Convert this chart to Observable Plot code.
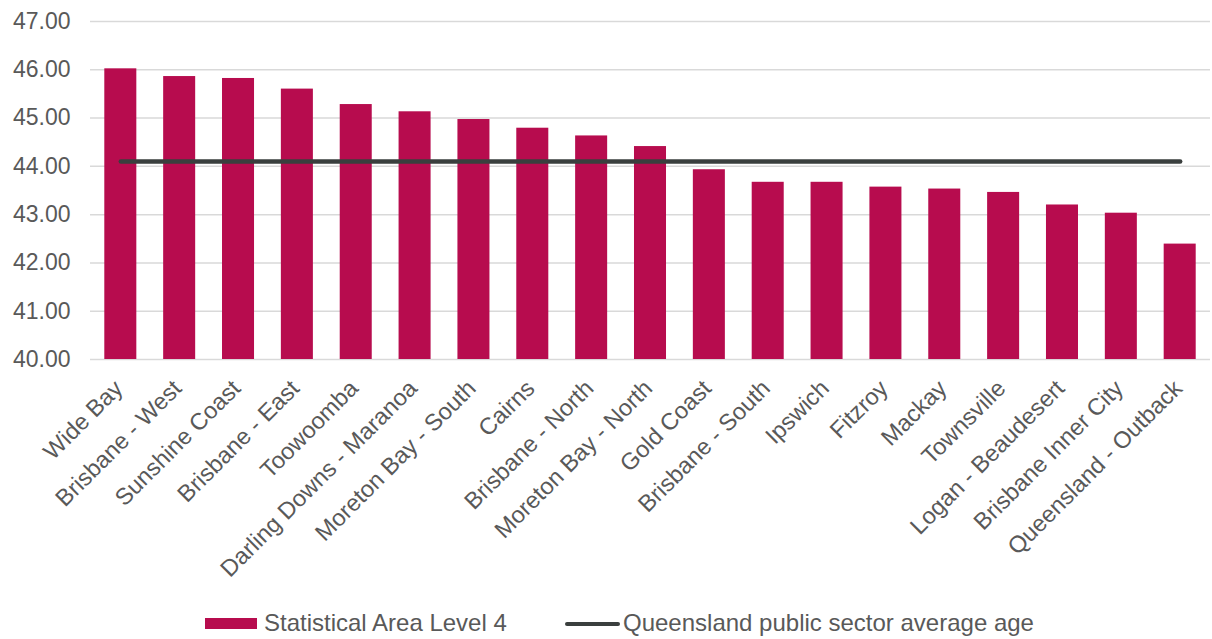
<!DOCTYPE html>
<html>
<head>
<meta charset="utf-8">
<script src="https://cdn.jsdelivr.net/npm/d3@7"></script>
<script src="https://cdn.jsdelivr.net/npm/@observablehq/plot@0.6"></script>
<style>
  html, body { margin: 0; padding: 0; background: #fff; }
  #wrap { position: relative; width: 1212px; height: 639px; font-family: "Liberation Sans", Arial, sans-serif; color: #595959; }
  .leg { position: absolute; top: 609px; font-size: 24px; line-height: 28px; white-space: nowrap; }
  .sw { position: absolute; }
</style>
</head>
<body>
<div id="wrap">
  <div id="chart"></div>
  <div class="sw" style="left:205px; top:618px; width:52px; height:11px; background:#b70c4e;"></div>
  <div class="leg" style="left:264px;">Statistical Area Level 4</div>
  <div class="sw" style="left:565px; top:622px; width:55px; height:4px; border-radius:2px; background:#3a3f3e;"></div>
  <div class="leg" style="left:623px;">Queensland public sector average age</div>
</div>
<script>
const regions = [
  "Wide Bay", "Brisbane - West", "Sunshine Coast", "Brisbane - East", "Toowoomba",
  "Darling Downs - Maranoa", "Moreton Bay - South", "Cairns", "Brisbane - North",
  "Moreton Bay - North", "Gold Coast", "Brisbane - South", "Ipswich", "Fitzroy",
  "Mackay", "Townsville", "Logan - Beaudesert", "Brisbane Inner City", "Queensland - Outback"
];
const averageAge = [
  46.02, 45.86, 45.82, 45.60, 45.28,
  45.13, 44.97, 44.79, 44.63,
  44.41, 43.93, 43.67, 43.67, 43.57,
  43.53, 43.46, 43.20, 43.03, 42.39
];
const qldPublicSectorAverage = 44.10;
const yTicks = [40, 41, 42, 43, 44, 45, 46, 47];
const yMin = 40, yMax = 47;

const data = regions.map((region, i) => ({region, age: averageAge[i], avg: qldPublicSectorAverage}));

const chart = Plot.plot({
  width: 1212,
  height: 600,
  marginLeft: 90,
  marginRight: 2,
  marginTop: 21,
  marginBottom: 241,
  style: {fontFamily: "'Liberation Sans', Arial, sans-serif", color: "#595959", background: "white", overflow: "visible"},
  x: {domain: regions, paddingInner: 0.456, paddingOuter: 0.243, round: false, label: null},
  y: {domain: [yMin, yMax], label: null},
  marks: [
    Plot.gridY(yTicks, {stroke: "#d9d9d9", strokeOpacity: 1, strokeWidth: 1.5}),
    Plot.barY(data, {x: "region", y1: () => yMin, y2: "age", fill: "#b70c4e"}),
    Plot.lineY(data, {x: "region", y: "avg", stroke: "#3a3f3e", strokeWidth: 4.5, strokeLinecap: "round"}),
    Plot.axisY(yTicks, {tickSize: 0, tickPadding: 20, tickFormat: d3.format(".2f"), fontSize: 23, fill: "#595959", label: null}),
    Plot.axisX({tickSize: 0, tickRotate: -45, tickPadding: 25, dx: -2, fontSize: 23.5, fill: "#595959", label: null})
  ]
});
document.getElementById("chart").appendChild(chart);
</script>
</body>
</html>
